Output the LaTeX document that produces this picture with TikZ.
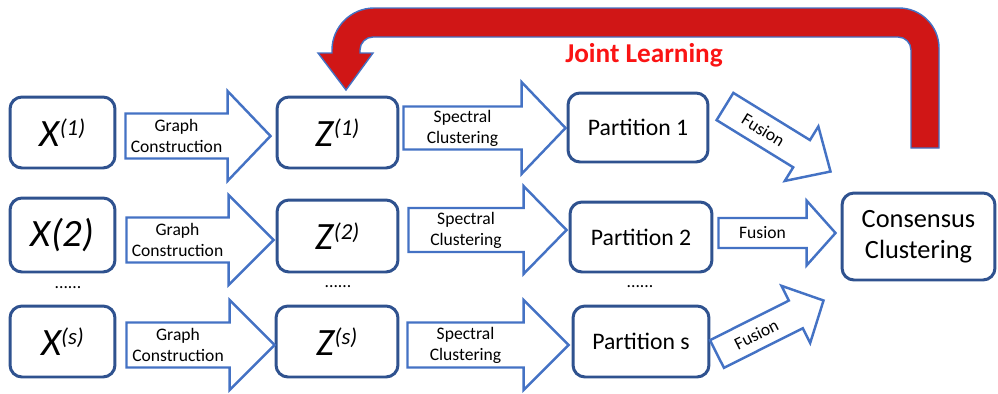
\documentclass[tikz,border=0pt]{standalone}
\usepackage{fontspec}
\setmainfont{Carlito}
\usetikzlibrary{calc}
\definecolor{boxblue}{RGB}{47,82,143}
\definecolor{arrowblue}{RGB}{68,114,196}
\definecolor{jointred}{RGB}{208,22,22}
\definecolor{learnred}{RGB}{250,20,20}
\newcommand{\sups}[1]{\raisebox{6pt}{\fontsize{13}{13}\selectfont #1}}
% block arrow: tail, tip, shaft half width, head half width, head length, text
\newcommand{\blockarrow}[6]{%
  \coordinate (bt) at (#1);
  \coordinate (bp) at (#2);
  \coordinate (bb) at ($(bp)!#5!(bt)$);
  \draw[flowarrow] ($(bt)!#3!90:(bp)$) -- ($(bb)!#3!90:(bp)$) -- ($(bb)!#4!90:(bp)$) -- (bp)
    -- ($(bb)!#4!-90:(bp)$) -- ($(bb)!#3!-90:(bp)$) -- ($(bt)!#3!-90:(bp)$) -- cycle;
  \path (bt) -- (bb) node[midway, sloped, arrowtext] {#6};
}
\tikzset{
  box/.style={draw=boxblue, line width=1.7pt, rounded corners=0.24cm, fill=white, inner sep=0pt},
  flowarrow/.style={draw=arrowblue, line width=1.4pt, fill=white, line join=miter},
  arrowtext/.style={font=\fontsize{10}{12}\selectfont, align=center, inner sep=0pt},
  bigtext/.style={font=\fontsize{22}{24}\selectfont\itshape},
  parttext/.style={font=\fontsize{13.5}{16}\selectfont},
  dots/.style={font=\fontsize{10}{12}\selectfont, inner sep=0pt},
}
\begin{document}
\begin{tikzpicture}[x=0.02cm, y=-0.02cm]
  \useasboundingbox (0,0) rectangle (998,393);
  % inputs
  \node[box, bigtext, minimum width=2.1cm, minimum height=1.42cm] (x1) at (62.5,132.5) {X\sups{(1)}};
  \node[box, bigtext, minimum width=2.1cm, minimum height=1.48cm] (x2) at (62.5,235) {X(2)};
  \node[box, bigtext, minimum width=2.1cm, minimum height=1.42cm] (xs) at (62.5,341.5) {X\sups{(s)}};
  % graphs
  \node[box, bigtext, minimum width=2.42cm, minimum height=1.42cm] (z1) at (337.5,132.5) {Z\sups{(1)}};
  \node[box, bigtext, minimum width=2.42cm, minimum height=1.44cm] (z2) at (337.5,236) {Z\sups{(2)}};
  \node[box, bigtext, minimum width=2.44cm, minimum height=1.42cm] (zs) at (337,341.5) {Z\sups{(s)}};
  % partitions
  \node[box, parttext, minimum width=2.8cm, minimum height=1.38cm] (p1) at (638,127.5) {Partition 1};
  \node[box, parttext, minimum width=2.84cm, minimum height=1.4cm] (p2) at (641,237) {Partition 2};
  \node[box, parttext, minimum width=2.72cm, minimum height=1.42cm] (ps) at (641,341.5) {Partition s};
  \node[box, align=center, font=\fontsize{15}{17.6}\selectfont, minimum width=3.06cm, minimum height=1.74cm] (cc) at (918.5,236.5) {Consensus\\Clustering};
  % dots
  \node[dots] (d1) at (68,288) {......};
  \node[dots] (d2) at (338,287) {......};
  \node[dots] (d3) at (640,287) {......};
  % graph construction
  \blockarrow{$(x1.east)+(9,3.5)$}{$(z1.west)+(-5,3.5)$}{0.45cm}{0.9cm}{0.86cm}{Graph\\Construction}
  \blockarrow{$(x2.east)+(10,5)$}{$(z2.west)+(-2,4)$}{0.45cm}{0.9cm}{0.9cm}{Graph\\Construction}
  \blockarrow{$(xs.east)+(10,3.5)$}{$(zs.west)+(0,3.5)$}{0.45cm}{0.9cm}{0.9cm}{Graph\\Construction}
  % spectral clustering
  \blockarrow{$(z1.east)+(4,-4.5)$}{$(p1.west)+(-1,0.5)$}{0.43cm}{0.92cm}{0.88cm}{Spectral\\Clustering}
  \blockarrow{$(z2.east)+(9,-6)$}{$(p2.west)+(-2,-7)$}{0.44cm}{0.88cm}{0.86cm}{Spectral\\Clustering}
  \blockarrow{$(zs.east)+(8,3.5)$}{$(ps.west)+(-3,3.5)$}{0.45cm}{0.9cm}{0.9cm}{Spectral\\Clustering}
  % fusion
  \blockarrow{$(p1.east)+(15.5,-21)$}{$(cc.north west)+(-10,-20)$}{0.32cm}{0.64cm}{0.68cm}{Fusion}
  \blockarrow{$(p2.east)+(5,-4)$}{$(cc.west)+(-5,-3.5)$}{0.3cm}{0.65cm}{0.58cm}{Fusion}
  \blockarrow{$(ps.east)+(6.5,12.5)$}{$(cc.south west)+(-17,19)$}{0.31cm}{0.64cm}{0.62cm}{Fusion}
  % joint learning
  \draw[fill=jointred, draw=arrowblue, line width=0.8pt, line join=miter]
    (939,148) -- (939,48) .. controls (939,26) and (921,8) .. (899,8)
    -- (374,8) .. controls (351,8) and (332,27) .. (332,50) -- (332,53)
    -- (318,53) -- (346,90) -- (373,53) -- (360,53) -- (360,50)
    .. controls (360,42.8) and (365.8,37) .. (373,37)
    -- (898,37) .. controls (905.2,37) and (911,42.8) .. (911,50)
    -- (911,148) -- cycle;
  \node[font=\fontsize{15.5}{18}\selectfont\bfseries, text=learnred] (jl) at (644,55) {Joint Learning};
\end{tikzpicture}
\end{document}
